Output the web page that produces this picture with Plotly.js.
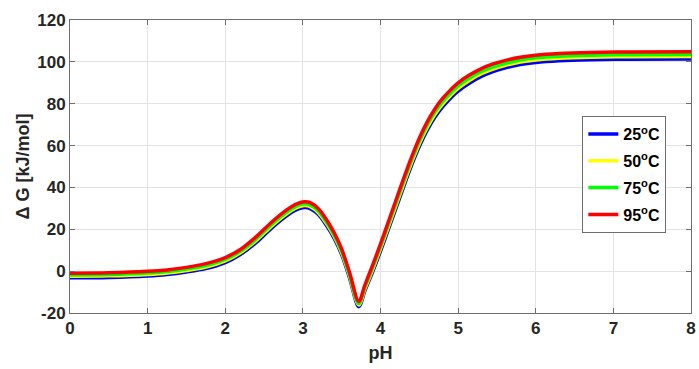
<!DOCTYPE html>
<html>
<head>
<meta charset="utf-8">
<script src="https://cdn.plot.ly/plotly-3.0.1.min.js"></script>
<style>html,body{margin:0;padding:0;background:#fff;}#chart{width:699px;height:369px;}</style>
</head>
<body>
<div id="chart"></div>
<script>
const pH = [0, 0.5, 1.0, 1.25, 1.5, 1.75, 2.0, 2.2, 2.4, 2.6, 2.8, 2.9, 3.02, 3.1, 3.2, 3.3, 3.4, 3.5, 3.6, 3.72, 3.8, 3.9, 4.0, 4.1, 4.2, 4.3, 4.4, 4.5, 4.6, 4.7, 4.8, 4.9, 5.0, 5.15, 5.3, 5.45, 5.6, 5.8, 6.0, 6.3, 6.7, 7.2, 8.0];
const dG25 = [-3.2, -3.0, -2.3, -1.6, -0.4, 1.2, 4.1, 8.1, 13.7, 20.7, 26.7, 29.0, 30.4, 29.8, 27.0, 22.0, 15.9, 7.9, -3.1, -17.0, -9.3, -0.2, 9.5, 19.8, 30.1, 40.5, 50.5, 59.5, 67.2, 73.5, 78.5, 82.5, 86.0, 89.9, 93.0, 95.3, 97.0, 98.7, 99.7, 100.5, 101.0, 101.25, 101.35];
const dG50 = [-2.45, -2.25, -1.55, -0.85, 0.35, 2.0, 4.9, 8.9, 14.65, 21.65, 27.65, 29.95, 31.35, 30.75, 27.95, 22.95, 16.8, 8.8, -2.2, -16.15, -8.35, 0.9, 10.7, 21.05, 31.45, 41.85, 51.85, 60.85, 68.55, 74.85, 79.85, 83.85, 87.35, 91.25, 94.3, 96.55, 98.2, 99.9, 100.9, 101.7, 102.2, 102.45, 102.55];
const dG75 = [-1.8, -1.6, -0.9, -0.2, 1.0, 2.7, 5.6, 9.6, 15.45, 22.45, 28.45, 30.75, 32.15, 31.55, 28.75, 23.75, 17.55, 9.55, -1.45, -15.45, -7.55, 1.8, 11.7, 22.15, 32.55, 43.0, 53.0, 62.0, 69.7, 76.0, 81.0, 85.0, 88.5, 92.35, 95.4, 97.65, 99.25, 100.9, 101.9, 102.7, 103.2, 103.45, 103.55];
const dG95 = [-1.0, -0.8, -0.1, 0.6, 1.8, 3.6, 6.5, 10.5, 16.5, 23.5, 29.5, 31.8, 33.2, 32.6, 29.8, 24.8, 18.5, 10.5, -0.5, -14.5, -6.5, 3.0, 13.0, 23.5, 34.0, 44.5, 54.5, 63.5, 71.2, 77.5, 82.5, 86.5, 90.0, 93.8, 96.8, 99.0, 100.6, 102.2, 103.2, 104.0, 104.5, 104.75, 104.85];
const seriesNames = ['25<sup>o</sup>C', '50<sup>o</sup>C', '75<sup>o</sup>C', '95<sup>o</sup>C'];
const seriesColors = ['#0000ff', '#ffff00', '#00ff00', '#ff0000'];
const xTicks = [0, 1, 2, 3, 4, 5, 6, 7, 8];
const yTicks = [-20, 0, 20, 40, 60, 80, 100, 120];
const yTitle = 'Δ G [kJ/mol]';
const xTitle = 'pH';

const ys = [dG25, dG50, dG75, dG95];
const traces = ys.map((y, i) => ({
  x: pH, y: y, type: 'scatter', mode: 'lines', name: seriesNames[i],
  legendgroup: 'g' + i,
  line: {color: seriesColors[i], width: 3.5, shape: 'spline', smoothing: 0.9}
}));

const fam = 'Liberation Sans, Arial, sans-serif';
const fnt = {family: fam, size: 17, color: '#262626', weight: 'bold'};
const layout = {
  width: 699, height: 369,
  margin: {l: 70, r: 8, t: 20, b: 56},
  paper_bgcolor: '#ffffff', plot_bgcolor: '#ffffff',
  showlegend: true,
  font: fnt,
  xaxis: {
    range: [0, 8], tickvals: xTicks, ticktext: xTicks.map(String),
    showgrid: true, gridcolor: '#e3e3e3', gridwidth: 1, zeroline: false,
    showline: true, linecolor: '#6e6e6e', linewidth: 1, mirror: 'ticks',
    ticks: 'inside', ticklen: 5, tickcolor: '#6e6e6e',
    tickfont: fnt, fixedrange: true,
    title: {text: xTitle, font: {family: fam, size: 18, color: '#262626', weight: 'bold'}, standoff: 8}
  },
  yaxis: {
    range: [-20, 120], tickvals: yTicks, ticktext: yTicks.map(String),
    showgrid: true, gridcolor: '#e3e3e3', gridwidth: 1, zeroline: false,
    showline: true, linecolor: '#6e6e6e', linewidth: 1, mirror: 'ticks',
    ticks: 'inside', ticklen: 5, tickcolor: '#6e6e6e',
    tickfont: fnt, fixedrange: true
  },
  annotations: [{
    text: yTitle, xref: 'paper', yref: 'paper', x: -0.0772, y: 0.5,
    xanchor: 'center', yanchor: 'middle', textangle: -90, showarrow: false,
    font: {family: fam, size: 18, color: '#262626', weight: 'bold'}
  }],
  legend: {
    x: 0.825, y: 0.672, xanchor: 'left', yanchor: 'top',
    bgcolor: '#ffffff', bordercolor: '#6e6e6e', borderwidth: 1,
    font: {family: fam, size: 16, color: '#000000', weight: 'bold'},
    itemwidth: 30, tracegroupgap: 3
  }
};
Plotly.newPlot('chart', traces, layout, {staticPlot: true, displayModeBar: false});
</script>
</body>
</html>
